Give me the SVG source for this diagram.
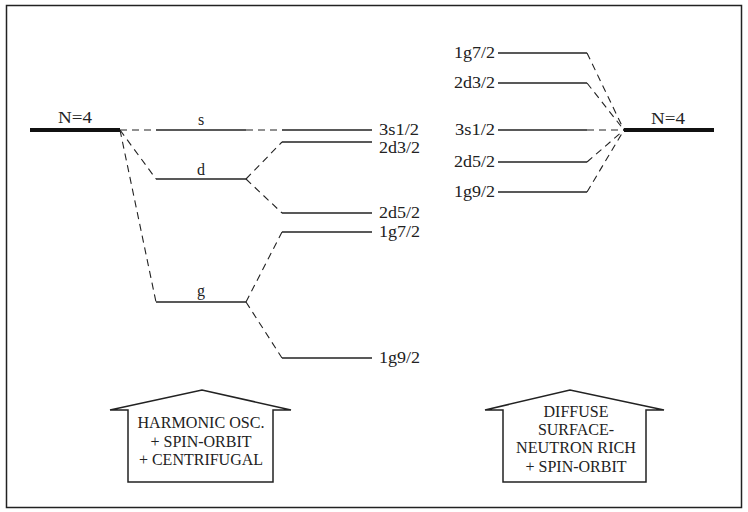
<svg xmlns="http://www.w3.org/2000/svg" width="748" height="512" viewBox="0 0 748 512">
<style>
.lvl{stroke:#222;stroke-width:1.5;fill:none}
.thick{stroke:#111;stroke-width:4;fill:none}
.dash{stroke:#222;stroke-width:1.1;fill:none;stroke-dasharray:7 5}
.t{font-family:"Liberation Serif","Times New Roman",serif;font-size:16px;fill:#222}
.box{stroke:#222;stroke-width:1.5;fill:#fff}
</style>
<rect x="6.5" y="5.5" width="735" height="502" fill="#fff" stroke="#222" stroke-width="1.5"/>
<g id="connectors">
<path class="dash" d="M120,130 H156"/>
<path class="dash" d="M246,130 H282"/>
<path class="dash" d="M120,130 L156,179"/>
<path class="dash" d="M120,130 L156,302"/>
<path class="dash" d="M246,179 L282,142"/>
<path class="dash" d="M246,179 L282,213"/>
<path class="dash" d="M246,302 L282,232"/>
<path class="dash" d="M246,302 L282,358"/>
<path class="dash" d="M587,53 L624,130"/>
<path class="dash" d="M587,83 L624,130"/>
<path class="dash" d="M587,130 H624"/>
<path class="dash" d="M587,162 L624,130"/>
<path class="dash" d="M587,192 L624,130"/>
</g>
<g id="left-N4"><path class="thick" d="M30,130 H120"/><text class="t" x="75" y="123" text-anchor="middle" textLength="34" lengthAdjust="spacingAndGlyphs">N=4</text></g>
<g id="s"><path class="lvl" d="M156,130 H246"/><text class="t" x="201" y="125" text-anchor="middle">s</text></g>
<g id="d"><path class="lvl" d="M156,179 H246"/><text class="t" x="201" y="175" text-anchor="middle">d</text></g>
<g id="g"><path class="lvl" d="M156,302 H246"/><text class="t" x="201" y="296" text-anchor="middle">g</text></g>
<g id="L3s12"><path class="lvl" d="M282,130 H372"/><text class="t" x="379" y="135" textLength="40" lengthAdjust="spacingAndGlyphs">3s1/2</text></g>
<g id="L2d32"><path class="lvl" d="M282,142 H372"/><text class="t" x="379" y="153" textLength="41" lengthAdjust="spacingAndGlyphs">2d3/2</text></g>
<g id="L2d52"><path class="lvl" d="M282,213 H372"/><text class="t" x="379" y="218" textLength="41" lengthAdjust="spacingAndGlyphs">2d5/2</text></g>
<g id="L1g72"><path class="lvl" d="M282,232 H372"/><text class="t" x="379" y="237" textLength="41" lengthAdjust="spacingAndGlyphs">1g7/2</text></g>
<g id="L1g92"><path class="lvl" d="M282,358 H372"/><text class="t" x="379" y="363" textLength="41" lengthAdjust="spacingAndGlyphs">1g9/2</text></g>
<g id="R1g72"><path class="lvl" d="M498,53 H587"/><text class="t" x="495" y="58" text-anchor="end" textLength="41" lengthAdjust="spacingAndGlyphs">1g7/2</text></g>
<g id="R2d32"><path class="lvl" d="M498,83 H587"/><text class="t" x="495" y="88" text-anchor="end" textLength="41" lengthAdjust="spacingAndGlyphs">2d3/2</text></g>
<g id="R3s12"><path class="lvl" d="M498,130 H587"/><text class="t" x="495" y="135" text-anchor="end" textLength="40" lengthAdjust="spacingAndGlyphs">3s1/2</text></g>
<g id="R2d52"><path class="lvl" d="M498,162 H587"/><text class="t" x="495" y="167" text-anchor="end" textLength="41" lengthAdjust="spacingAndGlyphs">2d5/2</text></g>
<g id="R1g92"><path class="lvl" d="M498,192 H587"/><text class="t" x="495" y="197" text-anchor="end" textLength="41" lengthAdjust="spacingAndGlyphs">1g9/2</text></g>
<g id="right-N4"><path class="thick" d="M624,130 H714"/><text class="t" x="668" y="124" text-anchor="middle" textLength="34" lengthAdjust="spacingAndGlyphs">N=4</text></g>
<g id="box1">
<path class="box" d="M128,482 V410 H110 L202,390 L291,410 H273 V482 Z"/>
<text class="t" x="201" y="428" text-anchor="middle" textLength="127" lengthAdjust="spacingAndGlyphs">HARMONIC OSC.</text>
<text class="t" x="201" y="447" text-anchor="middle">+ SPIN-ORBIT</text>
<text class="t" x="201" y="465" text-anchor="middle">+ CENTRIFUGAL</text>
</g>
<g id="box2">
<path class="box" d="M503,482 V410 H485 L570,390 L664,410 H646 V482 Z"/>
<text class="t" x="576" y="417" text-anchor="middle">DIFFUSE</text>
<text class="t" x="576" y="435" text-anchor="middle">SURFACE-</text>
<text class="t" x="576" y="453" text-anchor="middle" textLength="120" lengthAdjust="spacingAndGlyphs">NEUTRON RICH</text>
<text class="t" x="576" y="472" text-anchor="middle">+ SPIN-ORBIT</text>
</g>
</svg>
